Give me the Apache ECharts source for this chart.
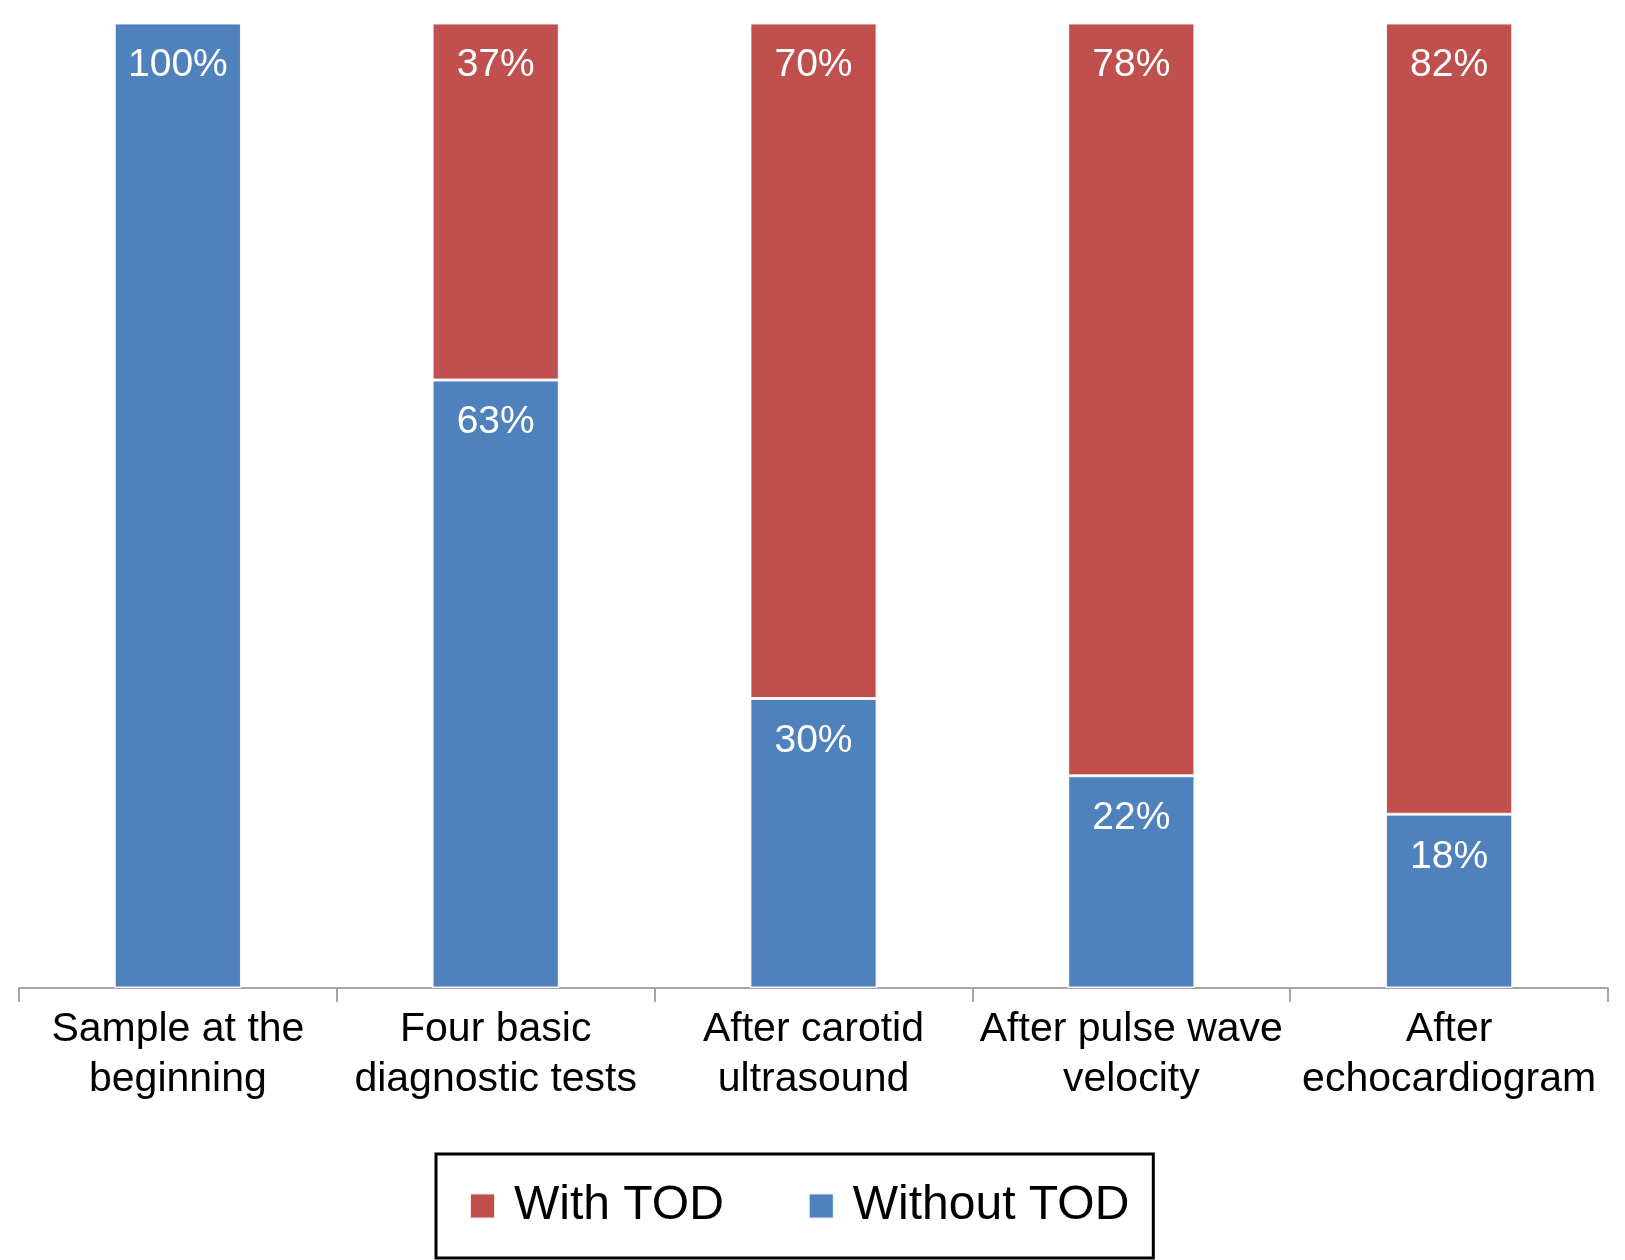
<!DOCTYPE html>
<html>
<head>
<meta charset="utf-8">
<script src="https://cdn.jsdelivr.net/npm/echarts@6/dist/echarts.min.js"></script>
<style>
html,body{margin:0;padding:0;background:#fff;}
#chart{width:1625px;height:1260px;}
</style>
</head>
<body>
<div id="chart"></div>
<script>
const categories = ['Sample at the\nbeginning', 'Four basic\ndiagnostic tests', 'After carotid\nultrasound', 'After pulse wave\nvelocity', 'After\nechocardiogram'];
const withTOD = [0, 37, 70, 78, 82];
const withoutTOD = [100, 63, 30, 22, 18];
const seriesNames = ['With TOD', 'Without TOD'];

const chart = echarts.init(document.getElementById('chart'));
const font = 'Liberation Sans, Arial, Helvetica, sans-serif';
const labelCfg = {
  show: true,
  position: 'insideTop',
  distance: 23,
  color: '#fff',
  fontSize: 39,
  fontFamily: font,
  formatter: p => (p.value ? p.value + '%' : '')
};
chart.setOption({
  animation: false,
  grid: {left: 19, right: 17, top: 23, bottom: 272, containLabel: false},
  legend: {
    data: seriesNames,
    left: 436,
    top: 1154,
    orient: 'horizontal',
    padding: [28, 24, 28, 33],
    itemGap: 84,
    itemWidth: 25,
    itemHeight: 25,
    borderColor: '#000',
    borderWidth: 3,
    textStyle: {fontSize: 48, color: '#000', fontFamily: font, padding: [0, 0, 0, 14]},
    icon: 'rect'
  },
  xAxis: {
    type: 'category',
    data: categories,
    axisLine: {lineStyle: {color: '#a6a6a6', width: 2}},
    axisTick: {show: true, length: 14, lineStyle: {color: '#a6a6a6', width: 2}},
    axisLabel: {color: '#000', fontSize: 41, fontFamily: font, lineHeight: 50, margin: 17, interval: 0}
  },
  yAxis: {
    type: 'value', min: 0, max: 100, show: false,
    splitLine: {show: false}
  },
  series: [
    {
      name: 'Without TOD', type: 'bar', stack: 'total', data: withoutTOD,
      barWidth: '40%',
      itemStyle: {color: '#4F81BD', borderColor: 'rgba(255,255,255,0.85)', borderWidth: 1.5},
      label: labelCfg
    },
    {
      name: 'With TOD', type: 'bar', stack: 'total', data: withTOD,
      barWidth: '40%',
      itemStyle: {color: '#C0504D', borderColor: 'rgba(255,255,255,0.85)', borderWidth: 1.5},
      label: labelCfg
    }
  ]
});
</script>
</body>
</html>
